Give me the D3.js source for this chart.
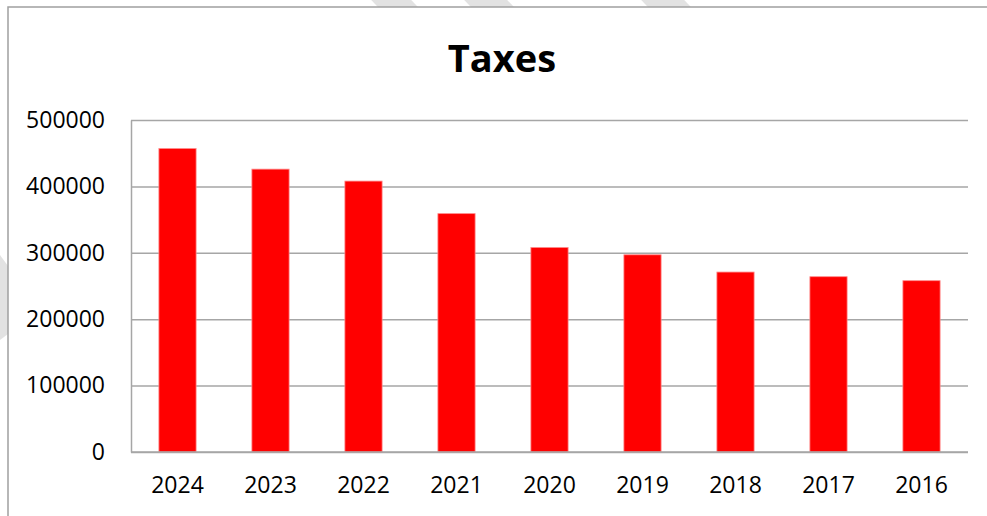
<!DOCTYPE html>
<html>
<head>
<meta charset="utf-8">
<script src="https://cdn.jsdelivr.net/npm/d3@7"></script>
<style>
  html, body { margin: 0; padding: 0; background: #fff; }
  svg { display: block; font-family: "Open Sans", sans-serif; }
</style>
</head>
<body>
<svg id="chart" width="987" height="516"></svg>
<script>
const years = ["2024", "2023", "2022", "2021", "2020", "2019", "2018", "2017", "2016"];
const taxes = [457000, 426000, 408000, 359000, 308000, 297000, 271000, 264000, 258000];
const yTicks = [0, 100000, 200000, 300000, 400000, 500000];
const title = "Taxes";

let width = 987, height = 516;
let margin = {"left": 131, "top": 120, "right": 19, "bottom": 64};
let svg = d3.select("#chart");

// faint diagonal watermark stripes behind the chart frame
let stripes = [
  [[352, -20], [392, -20], [440, 30], [400, 30]],
  [[445, -20], [488, -20], [536, 30], [493, 30]],
  [[622, -20], [665, -20], [713, 30], [670, 30]],
  [[-30, 255], [0, 255], [40, 310], [0, 340], [-30, 330]]
];
svg.append("g").selectAll("path")
  .data(stripes)
  .join("path")
  .attr("d", d => "M" + d.join("L") + "Z")
  .attr("fill", "#e2e2e2");

// chart frame
svg.append("rect")
  .attr("x", 8).attr("y", 7)
  .attr("width", 1000).attr("height", 530)
  .attr("fill", "#fff")
  .attr("stroke", "#a0a0a0")
  .attr("stroke-width", 1.5);

let x = d3.scaleBand()
  .domain(years)
  .range([margin.left, width - margin.right])
  .paddingInner(0.6)
  .paddingOuter(0.3);

let y = d3.scaleLinear()
  .domain([0, 500000])
  .range([height - margin.bottom, margin.top]);

// grid lines
let grid = svg.append("g").attr("class", "grid")
  .attr("transform", `translate(${margin.left},0)`)
  .call(d3.axisLeft(y).tickValues(yTicks).tickSize(-(width - margin.right - margin.left)).tickFormat(""));
grid.select(".domain").remove();
grid.selectAll("line").attr("stroke", "#a6a6a6").attr("stroke-width", 1.5);

// y axis line and labels
let axisY = svg.append("g").attr("class", "axisY")
  .attr("transform", `translate(${margin.left},0)`)
  .call(d3.axisLeft(y).tickValues(yTicks).tickSize(0).tickPadding(26).tickFormat(d3.format("d")));
axisY.select(".domain").attr("stroke", "#a6a6a6").attr("stroke-width", 1.5);
axisY.selectAll("text")
  .attr("font-family", "Open Sans, sans-serif")
  .attr("font-size", 23)
  .attr("fill", "#000");

// bars
svg.append("g").attr("class", "bars")
  .selectAll("rect")
  .data(years)
  .join("rect")
  .attr("x", d => x(d))
  .attr("width", x.bandwidth())
  .attr("y", (d, i) => y(taxes[i]))
  .attr("height", (d, i) => y(0) - y(taxes[i]))
  .attr("fill", "#ff0000")
  .attr("stroke", "#ff8a8a")
  .attr("stroke-width", 0.8);

// x axis labels
let axisX = svg.append("g").attr("class", "axisX")
  .attr("transform", `translate(0,${y(0)})`)
  .call(d3.axisBottom(x).tickSize(0).tickPadding(25));
axisX.select(".domain").attr("stroke", "#a6a6a6").attr("stroke-width", 1.5)
  .attr("d", `M${margin.left},0H${width - margin.right}`);
axisX.selectAll("text")
  .attr("font-family", "Open Sans, sans-serif")
  .attr("font-size", 23)
  .attr("fill", "#000");

// title
svg.append("text")
  .attr("x", 502)
  .attr("y", 72)
  .attr("text-anchor", "middle")
  .attr("font-family", "Open Sans, sans-serif")
  .attr("font-weight", "bold")
  .attr("font-size", 38)
  .attr("fill", "#000")
  .text(title);
</script>
</body>
</html>
